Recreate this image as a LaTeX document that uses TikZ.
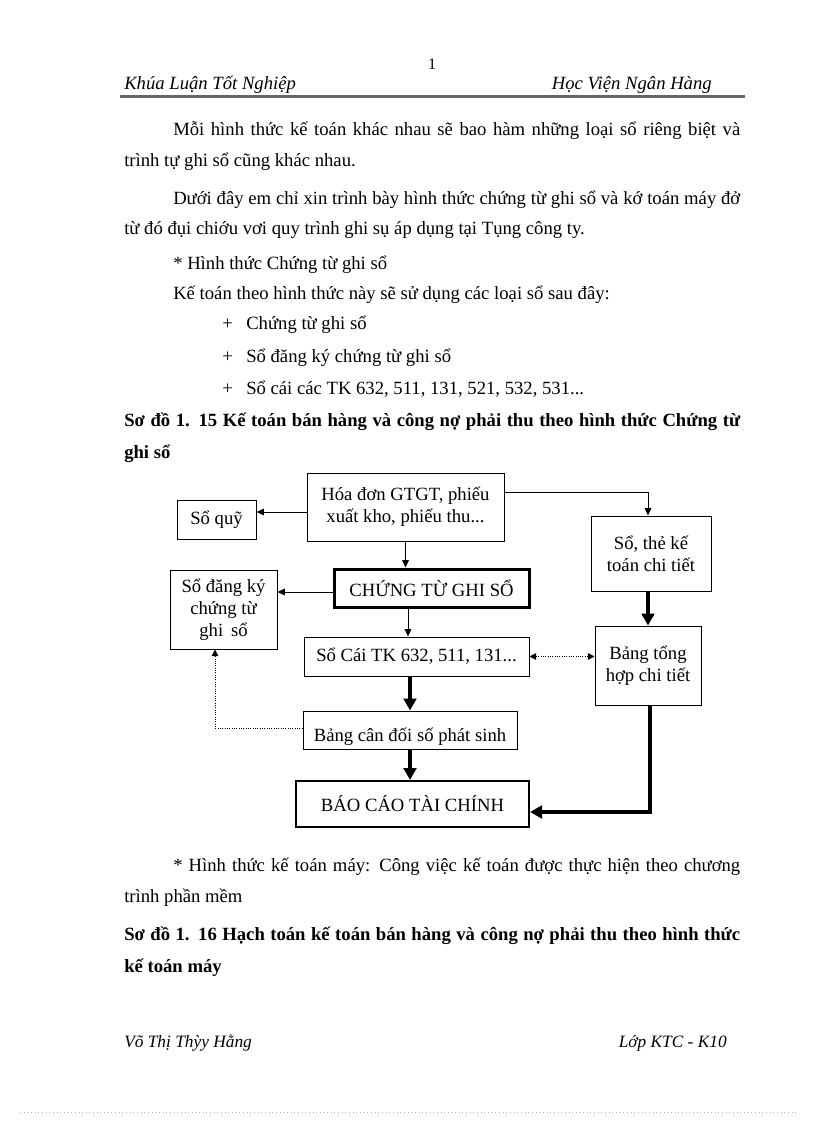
\documentclass[tikz,border=0pt]{standalone}
\usepackage{fontspec}
\setmainfont{Liberation Serif}
\usetikzlibrary{arrows.meta,calc}
\tikzset{
  txt/.style={anchor=base west,inner sep=0pt,font=\fontsize{14bp}{16bp}\selectfont},
  txtb/.style={txt,font=\fontsize{14bp}{16bp}\selectfont\bfseries},
  box/.style={draw,line width=0.75bp,inner sep=0pt,align=center,font=\fontsize{14bp}{16.5bp}\selectfont},
  arr/.style={line width=0.75bp,-{Triangle[length=5.5bp,width=5bp]}},
  thickarr/.style={line width=3bp,-{Triangle[length=9bp,width=9.5bp]}},
  dotarr/.style={line width=0.75bp,densely dotted,-{Triangle[length=5bp,width=5bp]}},
}
\begin{document}
\begin{tikzpicture}[x=0.75bp,y=-0.75bp]
\useasboundingbox[fill=white] (0,0) rectangle (816,1123);
\node[txt,anchor=base,font=\fontsize{12bp}{14bp}\selectfont] (pgno) at (432,70) {1};
\node[txt,font=\fontsize{14bp}{16bp}\selectfont\itshape] (hdl) at (124,90) {Khúa Luận Tốt Nghiệp};
\node[txt,anchor=base east,font=\fontsize{14bp}{16bp}\selectfont\itshape] (hdr) at (712,90) {Học Viện Ngân Hàng};
\draw[black!60,line width=2.25bp] (120,97) -- (745,97);
\node[txt] (l1) at (173,136) {\makebox[425.25bp][s]{Mỗi hình thức kế toán khác nhau sẽ bao hàm những loại sổ riêng biệt và}};
\node[txt] (l2) at (124,167) {trình tự ghi sổ cũng khác nhau.};
\node[txt] (l3) at (173,205) {\makebox[425.25bp][s]{Dưới đây em chỉ xin trình bày hình thức chứng từ ghi sổ và kớ toán máy đở}};
\node[txt] (l4) at (124,235) {từ đó đụi chiớu vơi quy trình ghi sụ áp dụng tại Tụng công ty.};
\node[txt] (l5) at (173,270) {* Hình thức Chứng từ ghi sổ};
\node[txt] (l6) at (173,300) {Kế toán theo hình thức này sẽ sử dụng các loại sổ sau đây:};
\foreach \y/\t in {330/Chứng từ ghi sổ, 362/Sổ đăng ký chứng từ ghi sổ, 394/{Sổ cái các TK 632, 511, 131, 521, 532, 531...}}{
  \node[txt] at (222,\y) {+};
  \node[txt] at (246,\y) {\t};
}
\node[txtb] (cap1) at (124,426) {\makebox[462bp][s]{Sơ đồ 1. 15 Kế toán bán hàng và công nợ phải thu theo hình thức Chứng từ}};
\node[txtb] (cap1b) at (124,458) {ghi sổ};

\node[box,minimum width=147.75bp,minimum height=51bp] (hoadon) at (405.5,507) {Hóa đơn GTGT, phiếu\\xuất kho, phiếu thu...};
\node[box,minimum width=59.25bp,minimum height=29.25bp] (soquy) at (216.5,519.5) {Sổ quỹ};
\node[box,line width=2.25bp,minimum width=146.25bp,minimum height=28.5bp] (ctgs) at (431.5,588) {CHỨNG TỪ GHI SỔ};
\node[box,minimum width=80.25bp,minimum height=59.25bp] (sodk) at (223.5,609.5) {Sổ đăng ký\\chứng từ\\ghi\, sổ};
\node[box,minimum width=168.75bp,minimum height=29.25bp] (socai) at (416.5,656.5) {Sổ Cái TK 632, 511, 131...};
\node[box,minimum width=160.5bp,minimum height=28.5bp] (bcd) at (410,730) {};
\node[txt,anchor=base] (bcdtxt) at (410,741) {Bảng cân đối số phát sinh};
\node[box,line width=1.5bp,minimum width=174.75bp,minimum height=34.5bp] (bctc) at (412.5,804) {BÁO CÁO TÀI CHÍNH};
\node[box,minimum width=90bp,minimum height=56.25bp] (sothe) at (651,553.5) {Sổ, thẻ kế\\toán chi tiết};
\node[box,minimum width=79.5bp,minimum height=59.25bp] (bth) at (648,665.5) {Bảng tổng\\hợp chi tiết};

\draw[arr] (hoadon.west |- 0,512) -- (soquy.east |- 0,512);
\draw[arr] (hoadon.south) -- (hoadon.south |- ctgs.north);
\draw[arr] (ctgs.west |- 0,592) -- (sodk.east |- 0,592);
\draw[arr] (ctgs.south -| 408,0) -- (socai.north -| 408,0);
\draw[arr] (hoadon.east |- 0,492) -| (sothe.north -| bth.north);
\draw[thickarr] (sothe.south -| bth.north) -- (bth.north);
\draw[thickarr] (socai.south -| bcd.north) -- (bcd.north);
\draw[thickarr] (bcd.south) -- (bcd.south |- bctc.north);
\draw[thickarr] (bth.south -| 650,0) |- (bctc.east |- 0,812);
\draw[dotarr,{Triangle[length=5bp,width=5bp]}-{Triangle[length=5bp,width=5bp]}] (socai.east) -- (socai.east -| bth.west);
\draw[dotarr] (bcd.west |- 0,728) -| (sodk.south -| 215,0);

\node[txt] (l7) at (173,871) {\makebox[425.25bp][s]{* Hình thức kế toán máy: Công việc kế toán được thực hiện theo chương}};
\node[txt] (l8) at (124,902) {trình phần mềm};
\node[txtb] (cap2) at (124,940) {\makebox[462bp][s]{Sơ đồ 1. 16 Hạch toán kế toán bán hàng và công nợ phải thu theo hình thức}};
\node[txtb] (cap2b) at (124,972) {kế toán máy};

\node[txt,font=\fontsize{13bp}{15bp}\selectfont\itshape] (ftl) at (124,1047) {Võ Thị Thỳy Hằng};
\node[txt,anchor=base east,font=\fontsize{13bp}{15bp}\selectfont\itshape] (ftr) at (727,1047) {Lớp KTC - K10};
\draw[black!30,line width=0.75bp,dotted] (20,1112) -- (796,1112);
\end{tikzpicture}
\end{document}
